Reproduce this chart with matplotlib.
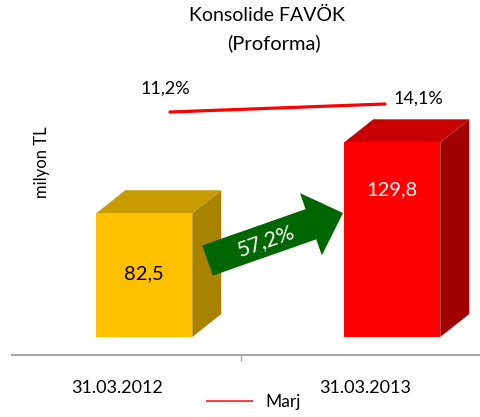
import numpy as np
import matplotlib
matplotlib.use('Agg')
import matplotlib.pyplot as plt
from matplotlib.patches import Polygon
from matplotlib.lines import Line2D

plt.rcParams['font.family'] = ['Lato', 'DejaVu Sans']

categories = ['31.03.2012', '31.03.2013']
favok = [82.5, 129.8]
favok_labels = ['82,5', '129,8']
marj = [11.2, 14.1]
marj_labels = ['11,2%', '14,1%']
growth_label = '57,2%'

W, H = 481, 417
fig = plt.figure(figsize=(W / 100, H / 100), dpi=100)


def box(l, t, r, b):
    # pixel box (from top-left) -> figure fraction rect
    return [l / W, 1 - b / H, (r - l) / W, (b - t) / H]


def fpt(x, y):
    return (x / W, 1 - y / H)


# main bar axes
ax = fig.add_axes(box(12, 60, 481, 355))
ax.set_xlim(-0.4234, 1.4677)
ax.set_ylim(-12, 184.67)

front_cols = ['#FFC000', '#FF0000']
top_cols = ['#C89B00', '#C80000']
side_cols = ['#A98200', '#A00000']
txt_cols = ['black', 'white']
lab_off = [-61, -48]  # px below top of front face

x = np.arange(len(categories))
shift = 0.11
bw = 0.387
dx = 29 / 248.0
dy = 23 / 1.5

for i, v in enumerate(favok):
    xl = x[i] + shift - bw / 2
    xr = x[i] + shift + bw / 2
    ax.add_patch(Polygon([(xr, 0), (xr + dx, dy), (xr + dx, v + dy), (xr, v)],
                         closed=True, fc=side_cols[i], ec='none', zorder=2))
    ax.add_patch(Polygon([(xl, v), (xl + dx, v + dy), (xr + dx, v + dy), (xr, v)],
                         closed=True, fc=top_cols[i], ec='none', zorder=2))
    ax.annotate(favok_labels[i], (x[i] + shift, v), xytext=(0, lab_off[i] * 0.72),
                textcoords='offset points', ha='center', va='center',
                fontsize=14.5, color=txt_cols[i], zorder=5)

ax.bar(x + shift, favok, width=bw, color=front_cols, zorder=3)

for s in ['top', 'left', 'right']:
    ax.spines[s].set_visible(False)
ax.spines['bottom'].set_color('#A6A6A6')
ax.spines['bottom'].set_linewidth(1.5)
ax.set_yticks([])
ax.set_xticks(x, categories)
ax.tick_params(axis='x', length=0, pad=18, labelsize=13)
ax.set_xticks([0.5], minor=True)
ax.tick_params(axis='x', which='minor', length=4, color='#A6A6A6', width=1)

# margin line on its own axes
ax2 = fig.add_axes(box(12, 60, 481, 355))
ax2.set_xlim(-0.7349, 1.4465)
ax2.set_ylim(-76.88, 30.05)
ax2.axis('off')
ax2.plot(x, marj, color='#FF0000', lw=2.3, solid_capstyle='round', zorder=4)
m_off = [(-5, 23), (33, 5)]
for i, v in enumerate(marj):
    ax2.annotate(marj_labels[i], (x[i], v),
                 xytext=(m_off[i][0] * 0.72, m_off[i][1] * 0.72),
                 textcoords='offset points', ha='center', va='center', fontsize=13)

# growth arrow
tail = np.array([207.5, 260.5])
tip = np.array([343.0, 213.0])
d = tip - tail
L = np.hypot(*d)
u = d / L
n = np.array([u[1], -u[0]])
bw2, hw, hl = 16, 33, 34
base = tip - u * hl
pts = [tail + n * bw2, base + n * bw2, base + n * hw, tip,
       base - n * hw, base - n * bw2, tail - n * bw2]
fig.patches.append(Polygon([fpt(*p) for p in pts], closed=True, fc='#006600',
                           ec='none', transform=fig.transFigure, zorder=6))
ang = np.degrees(np.arctan2(-d[1], d[0]))
fig.text(*fpt(266, 241), growth_label, rotation=ang, rotation_mode='anchor',
         ha='center', va='center', color='white', fontsize=15.5, zorder=7)

# titles
fig.text(*fpt(267, 15), 'Konsolide FAVÖK', ha='center', va='center', fontsize=14)
fig.text(*fpt(274, 43), '(Proforma)', ha='center', va='center', fontsize=14.5)
fig.text(*fpt(42, 162), 'milyon TL', rotation=90, ha='center', va='center', fontsize=12)

# legend
h = Line2D([], [], color='#FF4040', lw=1.5)
fig.legend([h], ['Marj'], loc='center', bbox_to_anchor=fpt(254, 402), frameon=False,
           fontsize=12.5, handlelength=2.6, handletextpad=0.8)

fig.savefig('out.png', dpi=100)
